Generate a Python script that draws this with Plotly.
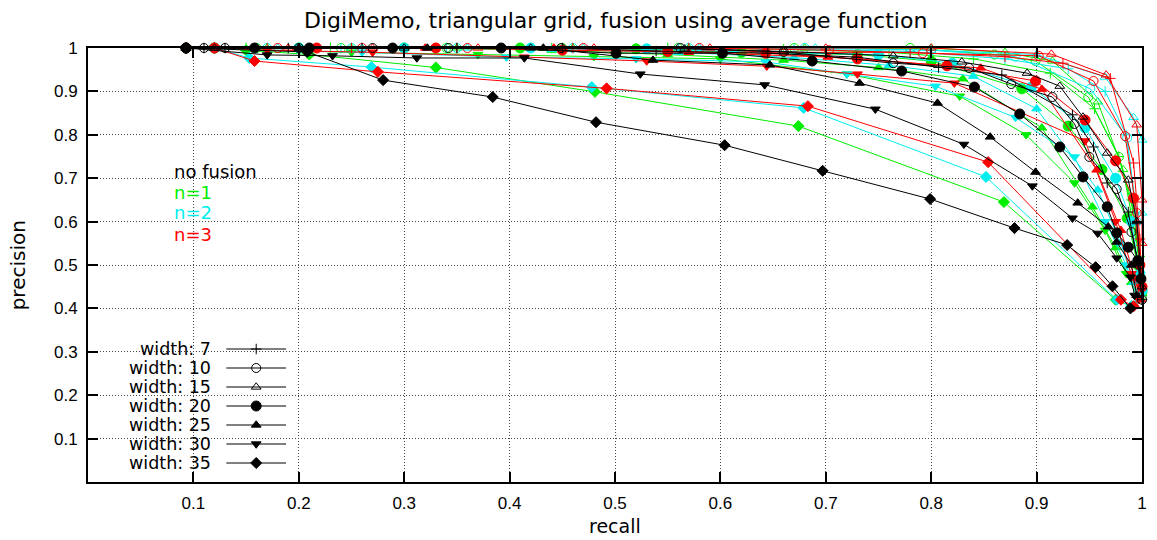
import plotly.graph_objects as go

# ---------------- precision / recall curves ----------------
# no fusion (black)
w7_none_r = [0.093, 0.11, 0.13, 0.19, 0.26, 0.35, 0.45, 0.539, 0.645, 0.729, 0.807, 0.867, 0.934, 0.954, 0.967, 0.987, 0.996, 1.0]
w7_none_p = [1.0, 1.0, 1.0, 1.0, 1.0, 1.0, 1.0, 0.993, 0.988, 0.979, 0.955, 0.938, 0.846, 0.772, 0.689, 0.622, 0.505, 0.42]
w10_none_r = [0.093, 0.11, 0.13, 0.2, 0.27, 0.342, 0.449, 0.562, 0.66, 0.764, 0.836, 0.876, 0.915, 0.936, 0.95, 0.976, 0.99, 0.997, 1.0]
w10_none_p = [1.0, 1.0, 1.0, 1.0, 1.0, 1.0, 1.0, 1.0, 0.991, 0.965, 0.954, 0.917, 0.887, 0.825, 0.749, 0.675, 0.576, 0.5, 0.42]
w15_none_r = [0.093, 0.12, 0.2, 0.3, 0.42, 0.566, 0.66, 0.764, 0.829, 0.891, 0.922, 0.944, 0.967, 0.987, 0.995, 1.0]
w15_none_p = [1.0, 1.0, 1.0, 1.0, 1.0, 0.998, 0.992, 0.982, 0.968, 0.942, 0.912, 0.841, 0.758, 0.696, 0.6, 0.45]
w20_none_r = [0.093, 0.158, 0.21, 0.289, 0.392, 0.501, 0.602, 0.687, 0.772, 0.841, 0.884, 0.922, 0.944, 0.967, 0.976, 0.987, 0.996, 0.999]
w20_none_p = [1.0, 1.0, 1.0, 1.0, 1.0, 0.988, 0.988, 0.970, 0.947, 0.91, 0.848, 0.772, 0.703, 0.634, 0.574, 0.541, 0.51, 0.468]
w25_none_r = [0.093, 0.2, 0.322, 0.432, 0.536, 0.647, 0.732, 0.806, 0.856, 0.899, 0.939, 0.968, 0.976, 0.99, 0.995]
w25_none_p = [1.0, 1.0, 1.0, 1.0, 0.972, 0.961, 0.919, 0.873, 0.795, 0.714, 0.643, 0.588, 0.553, 0.5, 0.43]
w30_none_r = [0.093, 0.17, 0.232, 0.312, 0.414, 0.524, 0.642, 0.747, 0.831, 0.896, 0.934, 0.958, 0.976, 0.989, 0.993]
w30_none_p = [1.0, 0.984, 0.982, 0.977, 0.977, 0.94, 0.915, 0.859, 0.778, 0.682, 0.608, 0.573, 0.516, 0.472, 0.43]
w35_none_r = [0.093, 0.208, 0.28, 0.384, 0.482, 0.604, 0.697, 0.799, 0.879, 0.929, 0.956, 0.972, 0.989]
w35_none_p = [1.0, 0.991, 0.926, 0.887, 0.829, 0.776, 0.717, 0.652, 0.585, 0.546, 0.495, 0.451, 0.40]

# fusion n=1 (green)
w7_n1_r = [0.093, 0.12, 0.15, 0.23, 0.33, 0.44, 0.55, 0.66, 0.76, 0.84, 0.913, 0.955, 0.978, 0.99, 0.998, 1.0]
w7_n1_p = [1.0, 1.0, 1.0, 1.0, 1.0, 1.0, 1.0, 0.997, 0.99, 0.975, 0.942, 0.86, 0.75, 0.65, 0.52, 0.43]
w10_n1_r = [0.093, 0.12, 0.16, 0.24, 0.34, 0.45, 0.56, 0.67, 0.78, 0.86, 0.899, 0.949, 0.978, 0.992, 0.998, 1.0]
w10_n1_p = [1.0, 1.0, 1.0, 1.0, 1.0, 1.0, 1.0, 1.0, 1.0, 0.985, 0.97, 0.887, 0.749, 0.62, 0.5, 0.43]
w15_n1_r = [0.093, 0.12, 0.17, 0.25, 0.35, 0.46, 0.57, 0.68, 0.8, 0.87, 0.915, 0.958, 0.982, 0.995, 1.0]
w15_n1_p = [1.0, 1.0, 1.0, 1.0, 1.0, 1.0, 1.0, 1.0, 1.0, 0.99, 0.97, 0.876, 0.72, 0.55, 0.44]
w20_n1_r = [0.093, 0.12, 0.2, 0.3, 0.41, 0.52, 0.62, 0.73, 0.8, 0.886, 0.93, 0.962, 0.986, 0.996, 1.0]
w20_n1_p = [1.0, 1.0, 1.0, 1.0, 1.0, 0.998, 0.99, 0.985, 0.97, 0.906, 0.82, 0.72, 0.608, 0.5, 0.44]
w25_n1_r = [0.093, 0.12, 0.2, 0.3, 0.44, 0.55, 0.66, 0.75, 0.83, 0.905, 0.953, 0.975, 0.99, 0.998]
w25_n1_p = [1.0, 1.0, 1.0, 1.0, 0.995, 0.985, 0.972, 0.955, 0.929, 0.816, 0.634, 0.54, 0.46, 0.42]
w30_n1_r = [0.093, 0.12, 0.17, 0.25, 0.37, 0.48, 0.6, 0.72, 0.827, 0.89, 0.936, 0.965, 0.985, 0.997]
w30_n1_p = [1.0, 1.0, 0.995, 0.99, 0.985, 0.98, 0.975, 0.94, 0.889, 0.8, 0.689, 0.58, 0.48, 0.42]
w35_n1_r = [0.093, 0.12, 0.15, 0.21, 0.33, 0.481, 0.674, 0.869, 0.975, 0.99]
w35_n1_p = [1.0, 1.0, 0.995, 0.985, 0.955, 0.899, 0.82, 0.645, 0.42, 0.405]

# fusion n=2 (cyan)
w7_n2_r = [0.093, 0.12, 0.16, 0.24, 0.34, 0.45, 0.56, 0.67, 0.78, 0.87, 0.93, 0.965, 0.985, 0.995, 1.0]
w7_n2_p = [1.0, 1.0, 1.0, 1.0, 1.0, 1.0, 1.0, 0.998, 0.992, 0.975, 0.952, 0.9, 0.8, 0.62, 0.44]
w10_n2_r = [0.093, 0.12, 0.17, 0.25, 0.35, 0.46, 0.57, 0.68, 0.8, 0.88, 0.951, 0.986, 0.995, 1.0]
w10_n2_p = [1.0, 1.0, 1.0, 1.0, 1.0, 1.0, 1.0, 1.0, 0.995, 0.98, 0.906, 0.793, 0.6, 0.45]
w15_n2_r = [0.093, 0.12, 0.18, 0.26, 0.36, 0.47, 0.58, 0.69, 0.8, 0.9, 0.965, 0.992, 1.0, 1.0]
w15_n2_p = [1.0, 1.0, 1.0, 1.0, 1.0, 1.0, 1.0, 1.0, 0.995, 0.985, 0.933, 0.84, 0.788, 0.62]
w20_n2_r = [0.093, 0.12, 0.2, 0.3, 0.42, 0.53, 0.64, 0.75, 0.82, 0.895, 0.946, 0.975, 0.99, 0.998, 1.0]
w20_n2_p = [1.0, 1.0, 1.0, 1.0, 1.0, 0.998, 0.99, 0.985, 0.965, 0.91, 0.816, 0.7, 0.6, 0.48, 0.44]
w25_n2_r = [0.093, 0.12, 0.2, 0.3, 0.44, 0.56, 0.67, 0.76, 0.84, 0.9, 0.958, 0.98, 0.992, 0.998]
w25_n2_p = [1.0, 1.0, 1.0, 1.0, 0.997, 0.99, 0.978, 0.96, 0.935, 0.86, 0.673, 0.55, 0.46, 0.42]
w30_n2_r = [0.093, 0.12, 0.17, 0.26, 0.397, 0.52, 0.643, 0.72, 0.804, 0.88, 0.936, 0.965, 0.985, 0.996]
w30_n2_p = [1.0, 1.0, 0.995, 0.99, 0.979, 0.975, 0.968, 0.94, 0.912, 0.84, 0.749, 0.6, 0.5, 0.42]
w35_n2_r = [0.093, 0.12, 0.153, 0.269, 0.478, 0.679, 0.852, 0.976, 0.99]
w35_n2_p = [1.0, 1.0, 0.977, 0.956, 0.91, 0.862, 0.703, 0.42, 0.405]

# fusion n=3 (red)
w7_n3_r = [0.093, 0.12, 0.17, 0.25, 0.35, 0.46, 0.57, 0.645, 0.78, 0.87, 0.925, 0.97, 0.992, 0.998, 1.0]
w7_n3_p = [1.0, 1.0, 1.0, 1.0, 1.0, 1.0, 1.0, 0.99, 0.99, 0.98, 0.965, 0.93, 0.735, 0.56, 0.45]
w10_n3_r = [0.093, 0.12, 0.18, 0.26, 0.36, 0.47, 0.58, 0.703, 0.792, 0.902, 0.954, 0.984, 0.995, 1.0]
w10_n3_p = [1.0, 1.0, 1.0, 1.0, 1.0, 1.0, 1.0, 0.995, 0.988, 0.982, 0.924, 0.797, 0.62, 0.45]
w15_n3_r = [0.093, 0.12, 0.19, 0.27, 0.37, 0.48, 0.59, 0.7, 0.8, 0.914, 0.966, 0.995, 1.0, 1.0]
w15_n3_p = [1.0, 1.0, 1.0, 1.0, 1.0, 1.0, 1.0, 1.0, 1.0, 0.986, 0.938, 0.823, 0.65, 0.55]
w20_n3_r = [0.093, 0.12, 0.217, 0.33, 0.45, 0.55, 0.643, 0.73, 0.815, 0.899, 0.946, 0.975, 0.992, 0.998, 1.0]
w20_n3_p = [1.0, 1.0, 1.0, 1.0, 0.995, 0.992, 0.988, 0.975, 0.959, 0.924, 0.834, 0.74, 0.654, 0.5, 0.45]
w25_n3_r = [0.093, 0.12, 0.2, 0.32, 0.442, 0.57, 0.702, 0.847, 0.905, 0.957, 0.98, 0.993, 0.999]
w25_n3_p = [1.0, 1.0, 1.0, 1.0, 1.0, 0.99, 0.979, 0.954, 0.905, 0.719, 0.58, 0.47, 0.42]
w30_n3_r = [0.093, 0.12, 0.17, 0.27, 0.414, 0.53, 0.644, 0.73, 0.822, 0.946, 0.975, 0.99, 0.997]
w30_n3_p = [1.0, 1.0, 0.995, 0.99, 0.979, 0.97, 0.958, 0.94, 0.919, 0.786, 0.6, 0.48, 0.42]
w35_n3_r = [0.093, 0.12, 0.158, 0.275, 0.492, 0.683, 0.854, 0.98, 0.992]
w35_n3_p = [1.0, 1.0, 0.97, 0.945, 0.907, 0.866, 0.737, 0.42, 0.405]

# ---------------- labels / axis ticks ----------------
widths = [7, 10, 15, 20, 25, 30, 35]
fusion_keys = ["n1", "n2", "n3", "none"]          # drawing order, black on top
fusion_labels = ["no fusion", "n=1", "n=2", "n=3"]
tick_vals = [0.1, 0.2, 0.3, 0.4, 0.5, 0.6, 0.7, 0.8, 0.9, 1.0]
tick_text = ["0.1", "0.2", "0.3", "0.4", "0.5", "0.6", "0.7", "0.8", "0.9", "1"]

curves = {
    ("none", 7): (w7_none_r, w7_none_p), ("none", 10): (w10_none_r, w10_none_p),
    ("none", 15): (w15_none_r, w15_none_p), ("none", 20): (w20_none_r, w20_none_p),
    ("none", 25): (w25_none_r, w25_none_p), ("none", 30): (w30_none_r, w30_none_p),
    ("none", 35): (w35_none_r, w35_none_p),
    ("n1", 7): (w7_n1_r, w7_n1_p), ("n1", 10): (w10_n1_r, w10_n1_p),
    ("n1", 15): (w15_n1_r, w15_n1_p), ("n1", 20): (w20_n1_r, w20_n1_p),
    ("n1", 25): (w25_n1_r, w25_n1_p), ("n1", 30): (w30_n1_r, w30_n1_p),
    ("n1", 35): (w35_n1_r, w35_n1_p),
    ("n2", 7): (w7_n2_r, w7_n2_p), ("n2", 10): (w10_n2_r, w10_n2_p),
    ("n2", 15): (w15_n2_r, w15_n2_p), ("n2", 20): (w20_n2_r, w20_n2_p),
    ("n2", 25): (w25_n2_r, w25_n2_p), ("n2", 30): (w30_n2_r, w30_n2_p),
    ("n2", 35): (w35_n2_r, w35_n2_p),
    ("n3", 7): (w7_n3_r, w7_n3_p), ("n3", 10): (w10_n3_r, w10_n3_p),
    ("n3", 15): (w15_n3_r, w15_n3_p), ("n3", 20): (w20_n3_r, w20_n3_p),
    ("n3", 25): (w25_n3_r, w25_n3_p), ("n3", 30): (w30_n3_r, w30_n3_p),
    ("n3", 35): (w35_n3_r, w35_n3_p),
}

# ---------------- styling ----------------
W, H = 1157, 540
ML, MR, MT, MB = 88, 10, 48, 58
PW, PH = W - ML - MR, H - MT - MB

colors = {"none": "#000000", "n1": "#00ee00", "n2": "#00eeee", "n3": "#ff0000"}
symbols = {7: "cross-thin-open", 10: "circle-open", 15: "triangle-up-open",
           20: "circle", 25: "triangle-up", 30: "triangle-down", 35: "diamond"}
sizes = {7: 7.5, 10: 9, 15: 8.5, 20: 10, 25: 8.5, 30: 8.5, 35: 8.5}
FONT = "DejaVu Sans, Liberation Sans, Arial, sans-serif"
TICKFONT = "Liberation Sans, Arial, sans-serif"


def fx(px):
    """pixel column -> paper/data x"""
    return (px - ML) / PW


def fy(py):
    """pixel row -> paper/data y"""
    return (MT + PH - py) / PH


fig = go.Figure()

for fk in fusion_keys:
    for w in widths:
        r, p = curves[(fk, w)]
        c = colors[fk]
        fig.add_trace(go.Scatter(
            x=r, y=p, mode="lines+markers",
            line=dict(color=c, width=1),
            marker=dict(symbol=symbols[w], size=sizes[w], color=c,
                        line=dict(color=c, width=1)),
            cliponaxis=False, showlegend=False, hoverinfo="skip",
        ))

# ---------------- key: width symbols ----------------
shapes = []
annotations = []
shapes.append(dict(type="rect", xref="paper", yref="paper", layer="between",
                   x0=fx(ML + 1), x1=fx(300), y0=fy(481), y1=fy(338),
                   fillcolor="white", line=dict(width=0)))
shapes.append(dict(type="rect", xref="paper", yref="paper", layer="between",
                   x0=fx(162), x1=fx(282), y0=fy(252), y1=fy(156),
                   fillcolor="white", line=dict(width=0)))

row_y0, row_dy = 349, 19
for i, w in enumerate(widths):
    py = row_y0 + i * row_dy
    annotations.append(dict(x=fx(214), y=fy(py), xref="paper", yref="paper",
                            text=f"width: {w}", showarrow=False,
                            xanchor="right", yanchor="middle",
                            font=dict(family=FONT, size=17.5, color="#000")))
    shapes.append(dict(type="line", xref="paper", yref="paper",
                       x0=fx(227), x1=fx(287), y0=fy(py), y1=fy(py),
                       line=dict(color="#000", width=1)))
    fig.add_trace(go.Scatter(
        x=[fx(257)], y=[fy(py)], mode="markers",
        marker=dict(symbol=symbols[w], size=sizes[w], color="#000",
                    line=dict(color="#000", width=1)),
        cliponaxis=False, showlegend=False, hoverinfo="skip"))

# ---------------- key: fusion colours ----------------
key_colors = [colors["none"], colors["n1"], colors["n2"], colors["n3"]]
for i, (lab, c) in enumerate(zip(fusion_labels, key_colors)):
    annotations.append(dict(x=fx(172), y=fy(171 + i * 21), xref="paper", yref="paper",
                            text=lab, showarrow=False, xanchor="left", yanchor="middle",
                            font=dict(family=FONT, size=18, color=c)))

# title and axis titles
annotations.append(dict(x=0.5, y=fy(20), xref="paper", yref="paper",
                        text="DigiMemo, triangular grid, fusion using average function",
                        showarrow=False, xanchor="center", yanchor="middle",
                        font=dict(family=FONT, size=22, color="#000")))
annotations.append(dict(x=0.5, y=fy(526), xref="paper", yref="paper", text="recall",
                        showarrow=False, xanchor="center", yanchor="middle",
                        font=dict(family=FONT, size=19, color="#000")))
annotations.append(dict(x=fx(18), y=0.5, xref="paper", yref="paper", text="precision",
                        showarrow=False, xanchor="center", yanchor="middle", textangle=-90,
                        font=dict(family=FONT, size=20, color="#000")))

axis_common = dict(
    range=[0, 1], tickvals=tick_vals, ticktext=tick_text,
    showgrid=True, gridcolor="#444", gridwidth=1, griddash="1px,2px",
    zeroline=False, showline=True, linecolor="#000", linewidth=2, mirror="ticks",
    ticks="inside", ticklen=10, tickwidth=1.5, tickcolor="#000",
    tickfont=dict(family=TICKFONT, size=17, color="#000"),
    fixedrange=True,
)

fig.update_layout(
    width=W, height=H,
    margin=dict(l=ML, r=MR, t=MT, b=MB, pad=0),
    paper_bgcolor="white", plot_bgcolor="white",
    xaxis=dict(**axis_common, ticklabelstandoff=5),
    yaxis=dict(**axis_common, ticklabelstandoff=5),
    shapes=shapes, annotations=annotations,
    showlegend=False,
)

fig.write_html("out.html")
